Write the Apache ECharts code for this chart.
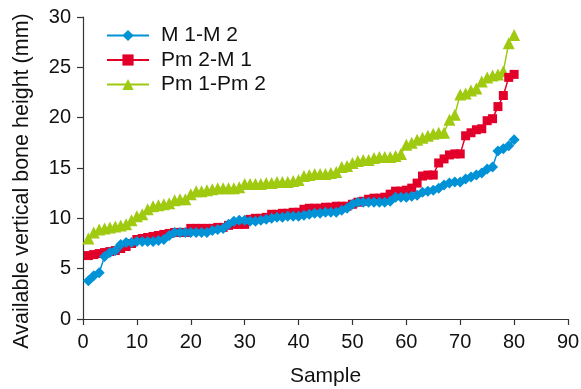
<!DOCTYPE html>
<html><head><meta charset="utf-8">
<script src="https://cdn.jsdelivr.net/npm/echarts@6/dist/echarts.min.js"></script>
<style>html,body{margin:0;padding:0;background:#fff}#c{width:581px;height:389px}</style>
</head><body><div id="c"></div>
<script>
const samples = Array.from({length:80},(_,i)=>i+1);
const m1m2 = [3.8,4.3,4.6,6.2,6.6,6.8,7.4,7.6,7.6,7.7,7.7,7.7,7.7,7.8,7.9,8.3,8.6,8.6,8.6,8.6,8.6,8.6,8.6,8.8,8.9,9.0,9.4,9.7,9.8,9.8,9.7,9.7,9.8,9.9,10.0,10.1,10.1,10.2,10.2,10.2,10.3,10.4,10.5,10.5,10.6,10.6,10.6,10.8,11.0,11.4,11.6,11.6,11.6,11.6,11.6,11.6,11.7,12.1,12.1,12.1,12.2,12.3,12.6,12.7,12.8,13.0,13.3,13.5,13.6,13.6,13.9,14.1,14.3,14.5,14.9,15.1,16.7,16.9,17.2,17.8];
const pm2m1 = [6.3,6.4,6.5,6.6,6.7,6.8,7.0,7.2,7.5,7.9,8.0,8.1,8.2,8.3,8.4,8.5,8.6,8.6,8.6,9.0,9.0,9.0,9.0,9.0,9.1,9.1,9.3,9.4,9.4,9.4,9.9,10.0,10.0,10.1,10.4,10.4,10.5,10.5,10.6,10.6,10.9,11.0,11.0,11.0,11.1,11.1,11.2,11.2,11.2,11.4,11.6,11.7,11.9,12.0,12.0,12.1,12.4,12.7,12.7,12.8,13.0,13.5,14.2,14.3,14.3,15.5,15.9,16.3,16.4,16.4,18.2,18.5,18.8,18.9,19.7,19.9,21.1,22.2,24.0,24.3];
const pm1pm2 = [8.0,8.6,8.9,9.0,9.1,9.2,9.3,9.4,9.8,10.2,10.4,10.9,11.2,11.3,11.4,11.5,11.8,11.9,11.9,12.4,12.7,12.7,12.8,12.9,13.0,13.0,13.0,13.0,13.1,13.4,13.4,13.4,13.4,13.5,13.5,13.6,13.6,13.6,13.7,13.8,14.2,14.3,14.4,14.4,14.4,14.5,14.6,15.1,15.2,15.5,15.7,15.8,15.8,16.0,16.1,16.1,16.1,16.2,16.4,17.3,17.5,17.8,18.0,18.2,18.4,18.5,18.5,19.8,20.3,22.3,22.4,22.7,22.9,23.6,24.0,24.2,24.3,24.6,27.4,28.2];
const seriesNames = ['M 1-M 2','Pm 2-M 1','Pm 1-Pm 2'];
const colors = ['#0092d6','#e2002a','#9fca10'];
const symbols = ['diamond','rect','triangle'];
const symbolSizes = [11,9,12];
const values = [m1m2, pm2m1, pm1pm2];

const font = 'Liberation Sans, Arial, sans-serif';
const txt = '#111';
const chart = echarts.init(document.getElementById('c'), null, {renderer:'canvas'});
chart.setOption({
  animation:false,
  backgroundColor:'#fff',
  grid:{left:83,right:13,top:17,bottom:70,containLabel:false,outerBoundsMode:'none'},
  legend:{
    left:101, top:20, orient:'vertical', itemGap:3.5, itemWidth:42, itemHeight:14,
    textStyle:{fontFamily:font,fontSize:21,color:txt,lineHeight:20,padding:[0,0,0,7]},
    data:seriesNames
  },
  xAxis:{
    type:'value', min:0, max:90, interval:10,
    name:'Sample', nameLocation:'middle', nameGap:47,
    nameTextStyle:{fontFamily:font,fontSize:21,color:txt},
    axisLine:{lineStyle:{color:'#333',width:1.2}},
    axisTick:{show:true,length:6,lineStyle:{color:'#333',width:1.2}},
    axisLabel:{fontFamily:font,fontSize:20,color:txt,margin:13},
    splitLine:{show:false}
  },
  yAxis:{
    type:'value', min:0, max:30, interval:5,
    name:'Available vertical bone height (mm)', nameLocation:'middle', nameGap:50,
    nameTextStyle:{fontFamily:font,fontSize:21.5,color:txt,padding:[0,26,0,0]},
    axisLine:{show:true,lineStyle:{color:'#333',width:1.2}},
    axisTick:{show:true,length:6,lineStyle:{color:'#333',width:1.2}},
    axisLabel:{fontFamily:font,fontSize:20,color:txt,margin:12},
    splitLine:{show:false}
  },
  series: values.map((v,k)=>({
    name:seriesNames[k], type:'line',
    data: samples.map((s,i)=>[s,v[i]]),
    symbol:symbols[k], symbolSize:symbolSizes[k], showSymbol:true,
    itemStyle:{color:colors[k]},
    lineStyle:{color:colors[k],width:1.5},
    z: k===0?4:(k===1?3:2)
  }))
});
</script></body></html>
